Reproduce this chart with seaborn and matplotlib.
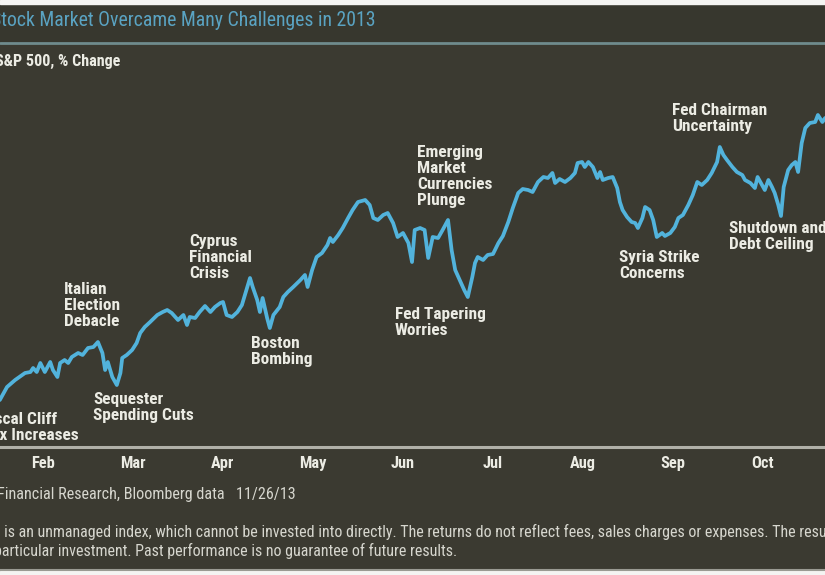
import matplotlib
matplotlib.use("Agg")
import matplotlib.pyplot as plt
import seaborn as sns
from matplotlib import font_manager as fm
from matplotlib.patches import Rectangle
from matplotlib.lines import Line2D

# ---------------- data ----------------
# x: position in months (Feb = 1 ... Oct = 9), y: S&P 500 % change
month_pos = [
    0.52, 0.60, 0.69, 0.80, 0.86, 0.89, 0.93, 0.97, 1.02, 1.08,
    1.11, 1.16, 1.19, 1.24, 1.28, 1.32, 1.39, 1.44, 1.50, 1.56,
    1.61, 1.66, 1.69, 1.72, 1.77, 1.82, 1.86, 1.88, 1.93, 1.99,
    2.04, 2.08, 2.13, 2.19, 2.27, 2.33, 2.38, 2.43, 2.50, 2.56,
    2.60, 2.63, 2.69, 2.74, 2.80, 2.86, 2.91, 2.97, 3.00, 3.04,
    3.10, 3.16, 3.21, 3.27, 3.30, 3.33, 3.38, 3.41, 3.44, 3.49,
    3.52, 3.56, 3.63, 3.67, 3.72, 3.78, 3.86, 3.91, 3.94, 3.99,
    4.04, 4.10, 4.16, 4.19, 4.22, 4.28, 4.33, 4.39, 4.44, 4.50,
    4.58, 4.63, 4.67, 4.72, 4.78, 4.83, 4.89, 4.94, 5.00, 5.06,
    5.10, 5.13, 5.19, 5.24, 5.28, 5.33, 5.39, 5.44, 5.50, 5.54,
    5.58, 5.63, 5.68, 5.72, 5.77, 5.80, 5.83, 5.89, 5.94, 6.00,
    6.06, 6.11, 6.17, 6.22, 6.28, 6.33, 6.39, 6.44, 6.50, 6.56,
    6.61, 6.66, 6.69, 6.74, 6.80, 6.86, 6.91, 6.94, 6.99, 7.02,
    7.06, 7.11, 7.16, 7.19, 7.22, 7.28, 7.33, 7.38, 7.41, 7.44,
    7.49, 7.54, 7.58, 7.61, 7.66, 7.69, 7.74, 7.78, 7.82, 7.88,
    7.91, 7.97, 8.02, 8.06, 8.11, 8.17, 8.22, 8.27, 8.32, 8.38,
    8.43, 8.49, 8.52, 8.56, 8.60, 8.66, 8.71, 8.77, 8.80, 8.86,
    8.91, 8.94, 8.99, 9.02, 9.06, 9.10, 9.13, 9.17, 9.20, 9.23,
    9.28, 9.32, 9.36, 9.39, 9.43, 9.47, 9.52, 9.58, 9.61, 9.66,
    9.69,
]
pct_change = [
    0.5, 1.8, 2.5, 3.2, 3.3, 3.7, 3.3, 4.2, 3.3, 4.3,
    3.5, 2.8, 4.2, 4.5, 4.2, 4.8, 5.2, 5.0, 5.7, 5.8,
    6.3, 5.2, 3.5, 4.3, 2.8, 2.0, 3.2, 4.7, 5.0, 5.5,
    6.2, 7.2, 7.8, 8.3, 9.0, 9.3, 9.5, 9.2, 8.5, 9.0,
    8.0, 8.8, 8.7, 9.3, 9.9, 9.3, 9.8, 10.2, 10.3, 9.0,
    8.8, 9.3, 10.0, 11.8, 12.7, 11.8, 10.5, 9.3, 10.7, 8.7,
    7.7, 9.0, 9.8, 10.8, 11.3, 11.8, 12.5, 13.0, 11.8, 13.5,
    14.8, 15.2, 16.0, 16.7, 16.3, 17.0, 17.7, 18.7, 19.5, 20.3,
    20.5, 20.0, 18.7, 18.5, 19.0, 19.2, 18.2, 16.8, 17.2, 16.2,
    14.3, 17.5, 17.7, 17.5, 14.7, 16.8, 16.7, 17.5, 18.5, 15.5,
    13.5, 12.5, 11.5, 10.8, 12.8, 14.2, 14.8, 14.5, 15.0, 15.1,
    16.2, 16.9, 18.3, 19.7, 21.2, 21.6, 21.5, 21.3, 22.3, 22.8,
    22.7, 23.2, 22.2, 22.6, 22.3, 22.7, 23.2, 24.2, 24.3, 23.8,
    24.3, 23.8, 22.7, 23.3, 22.5, 22.7, 22.8, 21.7, 20.3, 19.5,
    18.8, 18.3, 18.2, 17.7, 18.7, 19.8, 19.5, 18.5, 16.8, 17.2,
    16.9, 17.2, 17.8, 18.7, 19.0, 20.0, 21.0, 22.3, 22.0, 22.5,
    23.2, 24.3, 25.8, 25.0, 24.5, 23.8, 23.3, 23.0, 22.5, 22.2,
    21.7, 22.8, 22.0, 21.5, 22.5, 21.8, 21.2, 20.0, 18.9, 21.8,
    23.5, 24.0, 24.3, 23.3, 26.2, 27.7, 28.2, 28.3, 29.0, 28.3,
    28.7,
]
assert len(month_pos) == len(pct_change)

month_ticks = [1, 2, 3, 4, 5, 6, 7, 8, 9]
month_labels = ["Feb", "Mar", "Apr", "May", "Jun", "Jul", "Aug", "Sep", "Oct"]

event_labels = [
    "Fiscal Cliff\nTax Increases",
    "Italian\nElection\nDebacle",
    "Sequester\nSpending Cuts",
    "Cyprus\nFinancial\nCrisis",
    "Boston\nBombing",
    "Emerging\nMarket\nCurrencies\nPlunge",
    "Fed Tapering\nWorries",
    "Fed Chairman\nUncertainty",
    "Syria Strike\nConcerns",
    "Shutdown and\nDebt Ceiling",
]
# layout: upper-left corner of each label in data coordinates
event_xy = [
    (0.32, -0.7), (1.23, 12.3), (1.56, 1.3), (2.62, 17.1), (3.31, 6.9),
    (5.16, 26.0), (4.91, 9.8), (7.99, 30.2), (7.40, 15.5), (8.62, 18.4),
]

title = "Stock Market Overcame Many Challenges in 2013"
subtitle = "S&P 500, % Change"
source = "Financial Research, Bloomberg data   11/26/13"
disclaimer1 = ("is an unmanaged index, which cannot be invested into directly. "
               "The returns do not reflect fees, sales charges or expenses. "
               "The results")
disclaimer2 = "particular investment. Past performance is no guarantee of future results."

# ---------------- style ----------------
sns.set_theme(style="dark")
names = {f.name for f in fm.fontManager.ttflist}
FONT = "DejaVu Sans"
for cand in ["Liberation Sans Narrow", "Roboto Condensed", "Open Sans Condensed",
             "Roboto", "Liberation Sans"]:
    if cand in names:
        FONT = cand
        break
plt.rcParams["font.family"] = [FONT, "DejaVu Sans"]

BG = "#3b3a31"
TITLE_BG = "#37372e"
LINE_C = "#52b3dc"
TXT = "#ecece4"
TXT2 = "#d6d6ce"

W, H = 825, 575
fig = plt.figure(figsize=(W / 100, H / 100), dpi=100, facecolor=BG)


def fy(px):
    return 1 - px / H


def fx(px):
    return px / W


# frame bands
fig.add_artist(Rectangle((0, fy(42)), 1, 38 / H, transform=fig.transFigure,
                         color=TITLE_BG, zorder=0))
fig.add_artist(Rectangle((0, fy(4)), 1, 4 / H, transform=fig.transFigure,
                         color="#f4f4f2", zorder=1))
fig.add_artist(Rectangle((0, 0), 1, 4 / H, transform=fig.transFigure,
                         color="#f4f4f2", zorder=1))
fig.add_artist(Line2D([0, 1], [fy(43), fy(43)], transform=fig.transFigure,
                      color="#6f8b8d", lw=2.0, zorder=2))
fig.add_artist(Line2D([0, 1], [fy(569.5), fy(569.5)], transform=fig.transFigure,
                      color="#9a9a92", lw=1.5, zorder=2))

ax = fig.add_axes([0, fy(447), 1, (447 - 80) / H])
ax.set_facecolor("none")
sns.lineplot(x=month_pos, y=pct_change, ax=ax, color=LINE_C, lw=2.7,
             estimator=None, sort=False, legend=False)
ax.set_xlim(0.522, 9.689)
ax.set_ylim(-4.2, 32.5)
ax.set_xticks(month_ticks)
ax.set_xticklabels(month_labels, color=TXT, fontsize=11.8, fontweight="bold")
ax.set_yticks([])
ax.tick_params(axis="x", length=0, pad=6.5)
ax.grid(False)
for s in ["top", "left", "right"]:
    ax.spines[s].set_visible(False)
ax.spines["bottom"].set_color("#b0b0a8")
ax.spines["bottom"].set_linewidth(2.2)
ax.set_xlabel("")
ax.set_ylabel("")

for lab, (x, y) in zip(event_labels, event_xy):
    ax.text(x, y, lab, ha="left", va="top", color=TXT, fontsize=12.4,
            fontweight="bold", linespacing=1.08, clip_on=False)

fig.text(fx(-9), fy(21), title, color="#5aa3c2", fontsize=14.2,
         ha="left", va="center")
fig.text(fx(-5), fy(61), subtitle, color=TXT, fontsize=11.6,
         fontweight="bold", ha="left", va="center")
fig.text(fx(-3), fy(494), source, color=TXT2, fontsize=11.6,
         ha="left", va="center")
fig.text(fx(4), fy(532), disclaimer1, color=TXT2, fontsize=11.55,
         ha="left", va="center")
fig.text(fx(-6), fy(551), disclaimer2, color=TXT2, fontsize=11.55,
         ha="left", va="center")

fig.savefig("out.png", dpi=100, facecolor=fig.get_facecolor())
print("font:", FONT)
